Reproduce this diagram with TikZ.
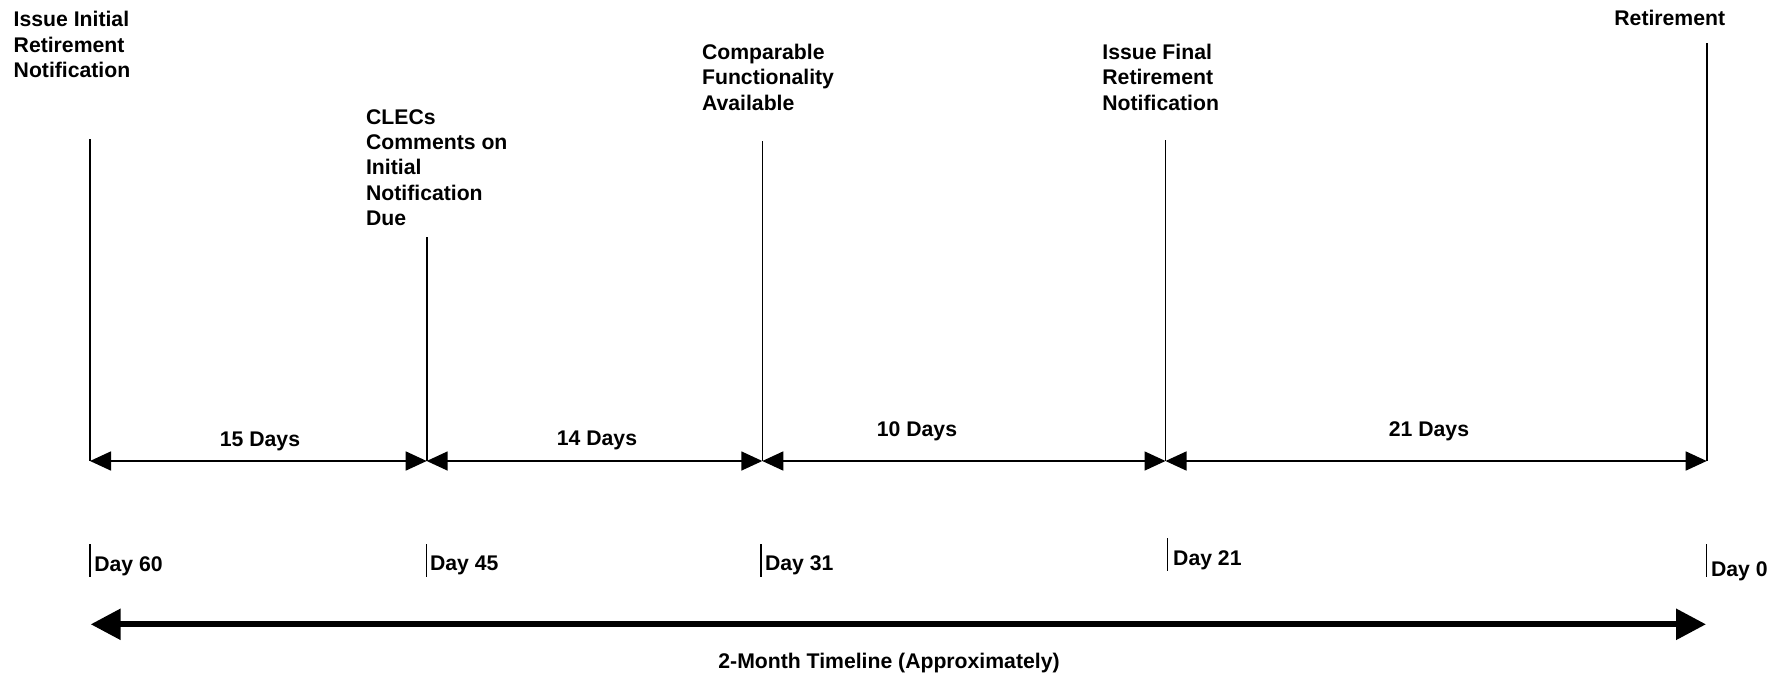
\documentclass[tikz,border=0pt]{standalone}
\usepackage{fontspec}
\setmainfont{Liberation Sans}
\usetikzlibrary{arrows.meta}
\begin{document}
\begin{tikzpicture}[x=0.5pt,y=-0.5pt,
  lbl/.style={font=\bfseries\fontsize{10.6}{12.7}\selectfont, inner sep=0pt, align=left, anchor=base west},
  dur/.style={font=\bfseries\fontsize{10.6}{12.7}\selectfont, inner sep=0pt, anchor=base},
  vline/.style={line width=0.8pt},
  tick/.style={line width=0.7pt},
  dim/.style={line width=0.8pt, {Triangle[length=10.5pt,width=9.5pt]}-{Triangle[length=10.5pt,width=9.5pt]}},
  big/.style={line width=2.9pt, {Triangle[length=15pt,width=15pt]}-{Triangle[length=15pt,width=15pt]}}]
\useasboundingbox (0,0) rectangle (1779,675);

% milestone lines
\coordinate (t1) at (90,139);
\coordinate (b1) at (90,461);
\coordinate (t2) at (426.7,237);
\coordinate (b2) at (426.7,461);
\coordinate (t3) at (762.3,141);
\coordinate (b3) at (762.3,461);
\coordinate (t4) at (1165.5,140);
\coordinate (b4) at (1165.5,461);
\coordinate (t5) at (1706.7,43);
\coordinate (b5) at (1706.7,461);
\foreach \i in {1,...,5} {\draw[vline] (t\i) -- (b\i);}

% duration arrows
\draw[dim] (b1) -- (b2);
\draw[dim] (b2) -- (b3);
\draw[dim] (b3) -- (b4);
\draw[dim] (b4) -- (b5);

% milestone labels (anchored at the baseline of the last line)
\node[lbl] (m1) at (13.3,77.4) {Issue Initial\\Retirement\\Notification};
\node[lbl] (m2) at (365.7,225.7) {CLECs\\Comments on\\Initial\\Notification\\Due};
\node[lbl] (m3) at (701.7,110) {Comparable\\Functionality\\Available};
\node[lbl] (m4) at (1102,110) {Issue Final\\Retirement\\Notification};
\node[lbl] (m5) at (1614,25.7) {Retirement};

% duration labels
\node[dur] (d1) at (260,446) {15 Days};
\node[dur] (d2) at (597,445.7) {14 Days};
\node[dur] (d3) at (917,436.7) {10 Days};
\node[dur] (d4) at (1429,436.7) {21 Days};

% day ticks
\coordinate (k1a) at (90,544);    \coordinate (k1b) at (90,576.7);
\coordinate (k2a) at (426.3,544); \coordinate (k2b) at (426.3,576.7);
\coordinate (k3a) at (761,544);   \coordinate (k3b) at (761,576.7);
\coordinate (k4a) at (1167.6,538);\coordinate (k4b) at (1167.6,570.7);
\coordinate (k5a) at (1706.3,544);\coordinate (k5b) at (1706.3,576.7);
\foreach \i in {1,...,5} {\draw[tick] (k\i a) -- (k\i b);}

\node[lbl] (y1) at (94,571.7) {Day 60};
\node[lbl] (y2) at (429.7,570.7) {Day 45};
\node[lbl] (y3) at (764.6,570.7) {Day 31};
\node[lbl] (y4) at (1172.8,565) {Day 21};
\node[lbl] (y5) at (1710.6,576) {Day 0};

% overall timeline
\coordinate (g1) at (90.7,624.3);
\coordinate (g2) at (1706,624.3);
\draw[big] (g1) -- (g2);
\node[dur] (title) at (889,668) {2-Month Timeline (Approximately)};
\end{tikzpicture}
\end{document}
